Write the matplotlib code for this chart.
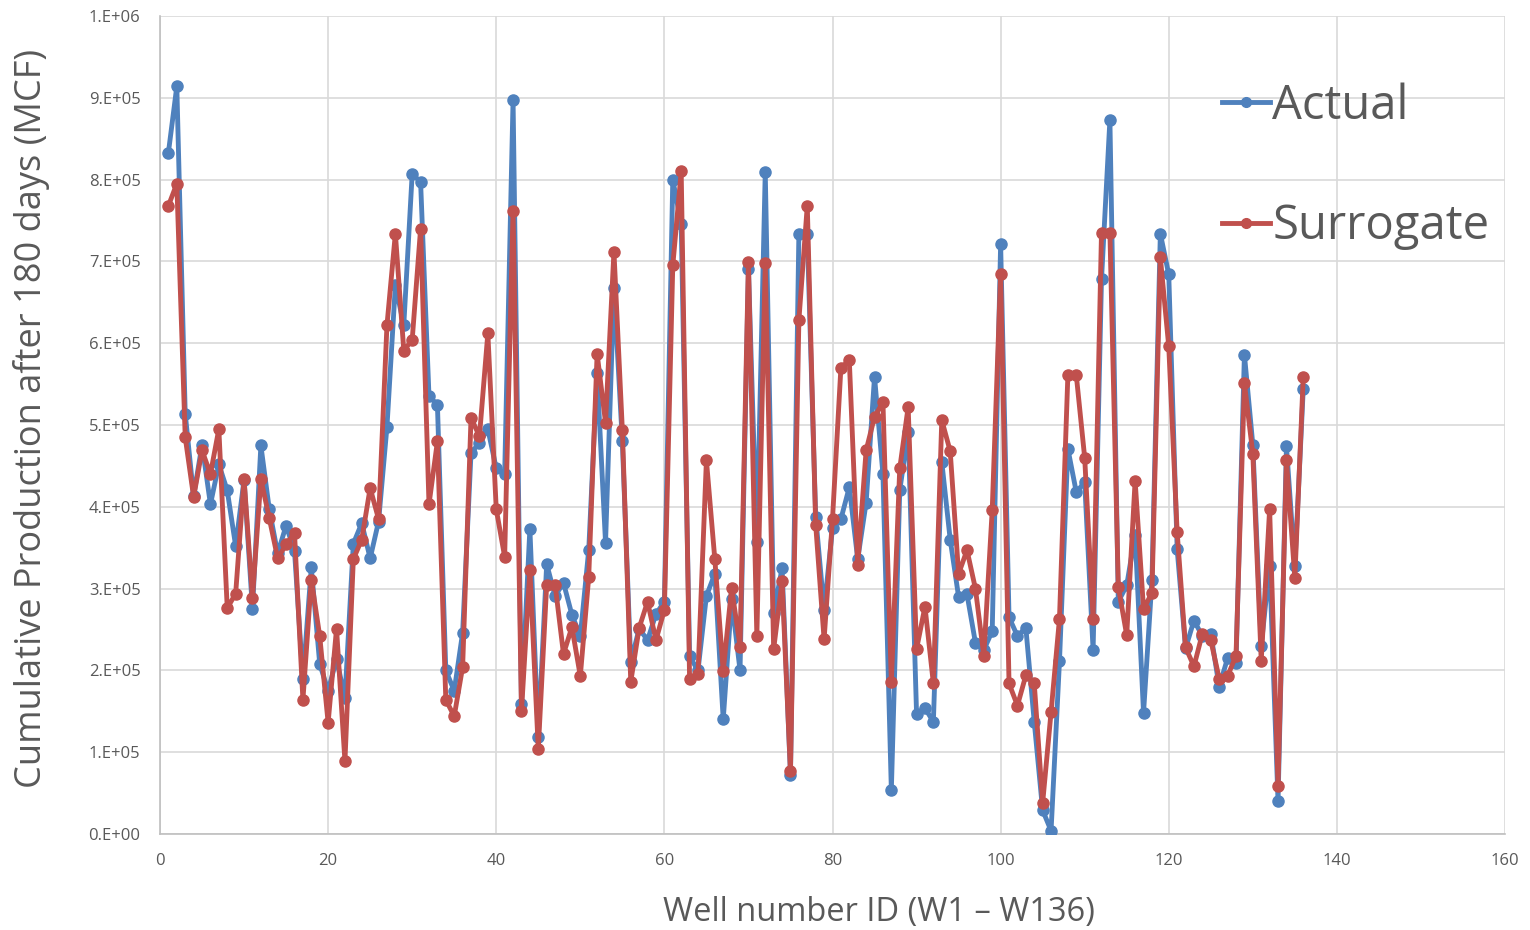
import matplotlib.pyplot as plt
from matplotlib.lines import Line2D
import numpy as np

plt.rcParams['font.family'] = ['Open Sans', 'DejaVu Sans']

col_blue = '#4F81BD'
col_red = '#C0504D'
col_text = '#595959'

wells = np.arange(1, 137)

# cumulative production after 180 days, units of 1e5 MCF
actual = [
    8.33, 9.14, 5.14, 4.13, 4.76, 4.03, 4.52, 4.20, 3.52, 4.33,
    2.75, 4.75, 3.97, 3.43, 3.77, 3.46, 1.89, 3.26, 2.08, 1.75,
    2.14, 1.66, 3.55, 3.80, 3.37, 3.82, 4.98, 6.71, 6.22, 8.07,
    7.97, 5.35, 5.25, 2.00, 1.75, 2.46, 4.66, 4.78, 4.95, 4.47,
    4.40, 8.97, 1.59, 3.73, 1.19, 3.30, 2.91, 3.07, 2.68, 2.42,
    3.47, 5.63, 3.56, 6.68, 4.80, 2.10, 2.51, 2.37, 2.69, 2.84,
    8.00, 7.46, 2.17, 2.00, 2.91, 3.18, 1.40, 2.87, 2.00, 6.91,
    3.57, 8.09, 2.70, 3.25, 0.72, 7.33, 7.33, 3.88, 2.74, 3.74,
    3.85, 4.24, 3.36, 4.05, 5.59, 4.40, 0.54, 4.20, 4.92, 1.47,
    1.54, 1.37, 4.55, 3.60, 2.90, 2.93, 2.34, 2.25, 2.48, 7.21,
    2.65, 2.42, 2.52, 1.37, 0.29, 0.04, 2.11, 4.71, 4.18, 4.30,
    2.25, 6.78, 8.73, 2.84, 3.04, 3.66, 1.48, 3.10, 7.34, 6.84,
    3.48, 2.27, 2.61, 2.42, 2.45, 1.80, 2.15, 2.09, 5.86, 4.76,
    2.30, 3.28, 0.40, 4.74, 3.28, 5.44,
]
surrogate = [
    7.68, 7.95, 4.85, 4.12, 4.69, 4.40, 4.95, 2.76, 2.94, 4.34,
    2.89, 4.34, 3.86, 3.37, 3.54, 3.68, 1.64, 3.11, 2.42, 1.36,
    2.51, 0.89, 3.36, 3.60, 4.23, 3.85, 6.22, 7.34, 5.91, 6.04,
    7.40, 4.03, 4.80, 1.64, 1.44, 2.04, 5.09, 4.86, 6.12, 3.97,
    3.39, 7.62, 1.50, 3.23, 1.04, 3.05, 3.05, 2.20, 2.53, 1.93,
    3.14, 5.87, 5.03, 7.12, 4.94, 1.86, 2.52, 2.84, 2.37, 2.74,
    6.95, 8.10, 1.89, 1.96, 4.57, 3.36, 1.99, 3.01, 2.29, 6.99,
    2.42, 6.98, 2.26, 3.09, 0.77, 6.28, 7.68, 3.78, 2.38, 3.85,
    5.70, 5.79, 3.29, 4.69, 5.10, 5.28, 1.86, 4.47, 5.22, 2.26,
    2.78, 1.84, 5.06, 4.68, 3.18, 3.47, 3.00, 2.18, 3.96, 6.84,
    1.84, 1.57, 1.94, 1.84, 0.38, 1.49, 2.63, 5.61, 5.61, 4.60,
    2.63, 7.35, 7.35, 3.02, 2.43, 4.32, 2.75, 2.95, 7.05, 5.96,
    3.69, 2.28, 2.05, 2.45, 2.37, 1.90, 1.93, 2.18, 5.51, 4.65,
    2.12, 3.97, 0.59, 4.57, 3.13, 5.59,
]
actual = np.array(actual) * 1e5
surrogate = np.array(surrogate) * 1e5

y_ticks = np.arange(0, 1.0e6 + 1, 1e5)
y_labels = ['0.E+00'] + ['%d.E+05' % k for k in range(1, 10)] + ['1.E+06']

fig = plt.figure(figsize=(15.3, 9.3), dpi=100)
ax = fig.add_axes([160 / 1530, 1 - 834 / 930, 1345 / 1530, 818 / 930])

ax.plot(wells, actual, color=col_blue, lw=3.5, marker='o', ms=8, zorder=3)
ax.plot(wells, surrogate, color=col_red, lw=3.5, marker='o', ms=8, zorder=4)

ax.set_xlim(0, 160)
ax.set_ylim(0, 1.0e6)
ax.set_xticks(np.arange(0, 161, 20))
ax.set_yticks(y_ticks)
ax.set_yticklabels(y_labels)
ax.grid(True, color='#D9D9D9', lw=1.2, zorder=0)
ax.set_axisbelow(True)
for s in ['top', 'right']:
    ax.spines[s].set_visible(False)
for s in ['left', 'bottom']:
    ax.spines[s].set_color('#BFBFBF')
    ax.spines[s].set_linewidth(1.2)
ax.tick_params(length=0, labelsize=12, colors=col_text)
ax.tick_params(axis='y', pad=14)
ax.tick_params(axis='x', pad=14)

ax.set_xlabel('Well number ID (W1 \u2013 W136)', fontsize=23.5, color=col_text, labelpad=19)
ax.xaxis.label.set_x(0.5346)
ax.set_ylabel('Cumulative Production after 180 days (MCF)', fontsize=26, color=col_text, labelpad=28)
ax.yaxis.label.set_y(0.508)

handles = [Line2D([], [], color=col_blue, lw=3.5, marker='o', ms=7),
           Line2D([], [], color=col_red, lw=3.5, marker='o', ms=7)]
leg = fig.legend(handles, ['Actual', 'Surrogate'], loc='upper left',
                 bbox_to_anchor=(1179 / 1530, 1 - 40 / 930), fontsize=34, frameon=False,
                 handlelength=1.03, handletextpad=0.05, labelspacing=1.54)
for t in leg.get_texts():
    t.set_color(col_text)

fig.savefig('out.png', dpi=100)
